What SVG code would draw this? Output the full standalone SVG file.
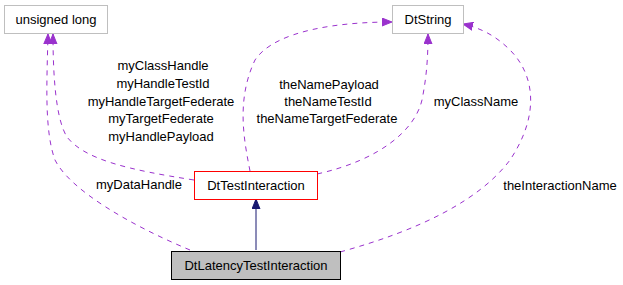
<svg xmlns="http://www.w3.org/2000/svg" width="623" height="285" viewBox="0 0 623 285">
<style>
text{font-family:"Liberation Sans",Arial,sans-serif;font-size:13px;fill:#000;text-anchor:middle}
.box{fill:#fff;stroke:#bfbfbf;stroke-width:1}
.use{fill:none;stroke:#9a32cd;stroke-width:1;stroke-dasharray:5,5}
.inh{fill:none;stroke:#191970;stroke-width:1}
</style>
<defs>
<marker id="ap" markerUnits="userSpaceOnUse" markerWidth="11" markerHeight="9" refX="10" refY="4.5" orient="auto"><path d="M0,0.5 L10,4.5 L0,8.5 z" fill="#9a32cd" stroke="#9a32cd"/></marker>
<marker id="ab" markerUnits="userSpaceOnUse" markerWidth="11" markerHeight="9" refX="10" refY="4.5" orient="auto"><path d="M0,0.5 L10,4.5 L0,8.5 z" fill="#191970" stroke="#191970"/></marker>
</defs>
<g id="connectors">
<path class="inh" d="M256,250 L256,199" marker-end="url(#ab)"/>
<path class="use" d="M194,180 C130,170 85,160 67,137 C55,118 53,70 53,34" marker-end="url(#ap)"/>
<path class="use" d="M190,250 C130,225 70,190 55,160 C44,130 47,80 48,34" marker-end="url(#ap)"/>
<path class="use" d="M250,171 C244,140 236,100 255,60 C275,30 340,22 392,22" marker-end="url(#ap)"/>
<path class="use" d="M317,174 C380,160 415,130 422,100 C427,75 428,55 428,34" marker-end="url(#ap)"/>
<path class="use" d="M340,252 C420,230 480,200 510,160 C540,115 535,75 510,50 C495,35 480,28 463,24" marker-end="url(#ap)"/>
<text x="163" y="70">myClassHandle</text>
<text x="163" y="88">myHandleTestId</text>
<text x="161" y="106">myHandleTargetFederate</text>
<text x="161" y="123">myTargetFederate</text>
<text x="161" y="141">myHandlePayload</text>
<text x="139" y="189">myDataHandle</text>
<text x="329" y="89">theNamePayload</text>
<text x="328" y="106">theNameTestId</text>
<text x="327" y="123">theNameTargetFederate</text>
<text x="476" y="106">myClassName</text>
<text x="560" y="190">theInteractionName</text>
</g>
<g id="unsigned_long">
<rect class="box" x="4.5" y="5.5" width="103" height="28"/>
<text x="56" y="24">unsigned long</text>
</g>
<g id="DtString">
<rect class="box" x="392.5" y="5.5" width="71" height="28"/>
<text x="428" y="24">DtString</text>
</g>
<g id="DtTestInteraction">
<rect x="194.5" y="171.5" width="123" height="28" fill="#fff" stroke="#ff0000"/>
<text x="256" y="190">DtTestInteraction</text>
</g>
<g id="DtLatencyTestInteraction">
<rect x="171.5" y="251.5" width="169" height="28" fill="#bfbfbf" stroke="#000"/>
<text x="256" y="270">DtLatencyTestInteraction</text>
</g>
</svg>
